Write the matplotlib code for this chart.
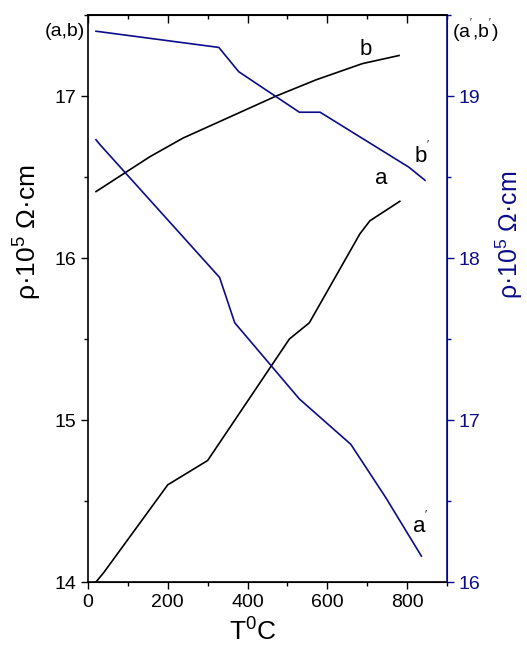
import matplotlib
matplotlib.use("Agg")
import matplotlib.pyplot as plt
from matplotlib.ticker import MultipleLocator

plt.rcParams['font.family'] = ['Liberation Sans', 'DejaVu Sans']
plt.rcParams['mathtext.fontset'] = 'custom'
plt.rcParams['mathtext.rm'] = 'Liberation Sans'
plt.rcParams['mathtext.it'] = 'Liberation Sans'

NAVY = '#0c0c8a'

# curve a (left axis)
t_a = [20, 40, 200, 300, 505, 555, 682, 707, 782]
rho_a = [14.0, 14.06, 14.60, 14.75, 15.50, 15.60, 16.15, 16.23, 16.35]

# curve b (left axis)
t_b = [20, 155, 238, 355, 472, 572, 688, 780]
rho_b = [16.41, 16.625, 16.74, 16.87, 17.0, 17.10, 17.20, 17.25]

# curve a' (right axis)
t_a2 = [20, 30, 330, 368, 530, 659, 747, 836]
rho_a2 = [18.73, 18.70, 17.88, 17.60, 17.13, 16.85, 16.52, 16.16]

# curve b' (right axis)
t_b2 = [20, 328, 378, 530, 582, 805, 845]
rho_b2 = [19.40, 19.30, 19.15, 18.90, 18.90, 18.56, 18.48]

fig = plt.figure(figsize=(5.27, 6.5), dpi=100)
ax = fig.add_axes([0.167, 0.1046, 0.681, 0.8723])
ax2 = ax.twinx()

ax.plot(t_a, rho_a, color='black', lw=1.2)
ax.plot(t_b, rho_b, color='black', lw=1.2)
ax2.plot(t_a2, rho_a2, color=NAVY, lw=1.2)
ax2.plot(t_b2, rho_b2, color=NAVY, lw=1.2)

ax.set_xlim(0, 900)
ax.set_ylim(14, 17.5)
ax2.set_ylim(16, 19.5)

ax.xaxis.set_major_locator(MultipleLocator(200))
ax.xaxis.set_minor_locator(MultipleLocator(100))
ax.yaxis.set_major_locator(MultipleLocator(1))
ax.yaxis.set_minor_locator(MultipleLocator(0.5))
ax2.yaxis.set_major_locator(MultipleLocator(1))
ax2.yaxis.set_minor_locator(MultipleLocator(0.5))

ax.tick_params(axis='x', which='both', direction='out', top=False, labelsize=14)
ax.tick_params(axis='x', which='major', length=5, width=1)
ax.tick_params(axis='x', which='minor', length=3, width=1)
ax.tick_params(axis='y', which='major', direction='out', length=5, width=1, labelsize=14)
ax.tick_params(axis='y', which='minor', direction='out', length=3, width=1)
ax2.tick_params(axis='y', which='major', direction='out', length=5, width=1,
                labelsize=14, colors=NAVY)
ax2.tick_params(axis='y', which='minor', direction='out', length=3, width=1, colors=NAVY)

# inward ticks on top
secx = ax.secondary_xaxis('top')
secx.xaxis.set_major_locator(MultipleLocator(200))
secx.xaxis.set_minor_locator(MultipleLocator(100))
secx.tick_params(which='major', direction='in', length=6, width=1, labeltop=False)
secx.tick_params(which='minor', direction='in', length=3, width=1)
secx.spines['top'].set_linewidth(1.2)

for s in ['left', 'bottom', 'top']:
    ax.spines[s].set_linewidth(1.2)
ax2.spines['right'].set_color(NAVY)
ax2.spines['right'].set_linewidth(1.2)
ax2.spines['left'].set_visible(False)

ax.set_xlabel('T$^{0}$C', fontsize=19)
ax.xaxis.set_label_coords(0.46, -0.064)
ax.set_ylabel('ρ·10$^{5}$ Ω·cm', fontsize=19)
ax.yaxis.set_label_coords(-0.122, 0.617)
ax2.set_ylabel('ρ·10$^{5}$ Ω·cm', fontsize=18, color=NAVY)
ax2.yaxis.set_label_coords(1.13, 0.612)

ax.text(697, 17.29, 'b', fontsize=16, ha='center', va='center')
ax.text(735, 16.49, 'a', fontsize=16, ha='center', va='center')
ax2.text(838, 18.64, "b$^{'}$", fontsize=16, ha='center', va='center')
ax2.text(832, 16.36, "a$^{'}$", fontsize=16, ha='center', va='center')

ax.text(-0.008, 0.971, '(a,b)', transform=ax.transAxes, fontsize=14,
        ha='right', va='center')
ax.text(1.015, 0.971, "(a$^{'}$,b$^{'}$)", transform=ax.transAxes, fontsize=14,
        ha='left', va='center')

fig.savefig('out.png', dpi=100)
